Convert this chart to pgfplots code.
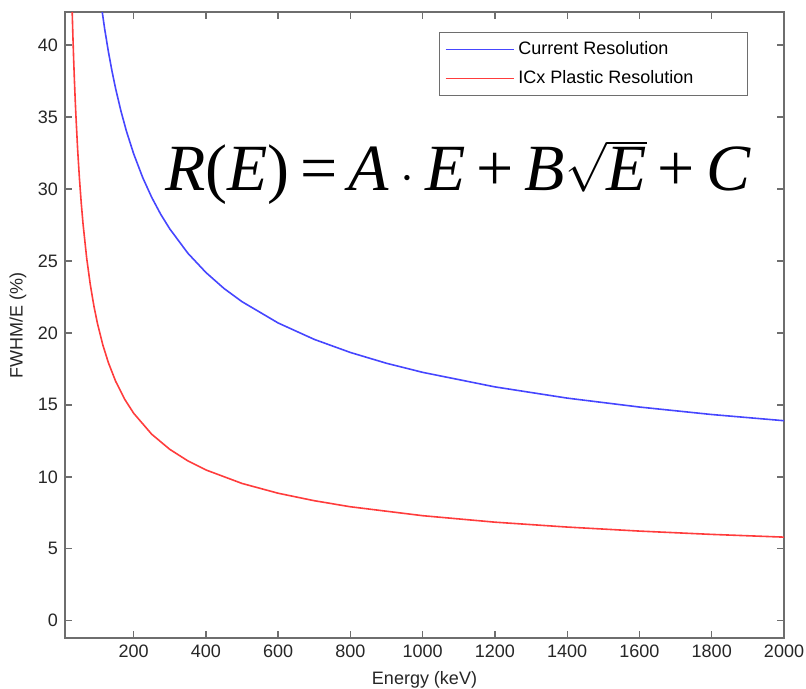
\documentclass[border=0pt]{standalone}
\usepackage{pgfplots}
\pgfplotsset{compat=1.18}
\usepackage{fontspec}
\setmainfont{Liberation Sans}
\newfontfamily\eqfont{Liberation Serif}
\usetikzlibrary{calc}
\definecolor{cblue}{RGB}{70,70,255}
\definecolor{cred}{RGB}{255,60,60}
\definecolor{axgray}{RGB}{110,110,110}
\begin{document}
\begin{tikzpicture}
\begin{axis}[
  name=ax,
  scale only axis,
  width=359.5pt, height=313pt,
  xmin=10, xmax=2000, ymin=-1.2, ymax=42.3,
  xtick={200,400,...,2000}, ytick={0,5,...,40},
  tick align=inside, major tick length=3.3pt,
  axis line style={axgray, line width=0.7pt},
  every tick/.style={axgray, line width=0.7pt},
  /pgf/number format/assume math mode=true,
  /pgf/number format/1000 sep={},
  tick label style={font=\fontsize{9}{10}\selectfont, text=black!85},
  label style={font=\fontsize{9}{10}\selectfont, text=black!85},
  xlabel={Energy (keV)},
  ylabel={FWHM/E (\%)},
  xlabel style={at={(axis description cs:0.5,-0.067)}, anchor=center},
  ylabel style={at={(axis description cs:-0.0654,0.5)}, anchor=center},
  legend style={at={(1,1)}, anchor=north east, xshift=-18pt, yshift=-10pt,
    draw=axgray, line width=0.6pt, font=\fontsize{9}{10}\selectfont,
    row sep=2.5pt, inner sep=2.5pt},
  legend cell align=left,
  legend image code/.code={\draw[#1] (0pt,0pt) -- (34pt,0pt);},
]
\addplot[cblue, line width=0.8pt] coordinates {
(110,42.85) (120,41.09) (130,39.56) (140,38.20) (150,36.99) (165,35.40)
(180,34.02) (200,32.45) (225,30.80) (250,29.42) (275,28.24) (300,27.23)
(350,25.54) (400,24.20) (450,23.09) (500,22.17) (600,20.69) (700,19.55)
(800,18.64) (900,17.89) (1000,17.26) (1200,16.25) (1400,15.47) (1600,14.85)
(1800,14.33) (2000,13.90)
};
\addlegendentry{\makebox[110pt][l]{Current Resolution}}
\addplot[cred, line width=0.8pt] coordinates {
(29,43.16) (30,42.23) (32,40.52) (34,38.98) (36,37.60) (38,36.35) (40,35.21)
(45,32.74) (50,30.72) (55,29.01) (60,27.56) (70,25.20) (80,23.36) (90,21.87)
(100,20.64) (115,19.14) (130,17.94) (150,16.65) (175,15.40) (200,14.42)
(250,12.96) (300,11.91) (350,11.11) (400,10.48) (500,9.54) (600,8.86)
(700,8.34) (800,7.92) (1000,7.30) (1200,6.85) (1400,6.51) (1600,6.23)
(1800,6.00) (2000,5.81)
};
\addlegendentry{\makebox[110pt][l]{ICx Plastic Resolution}}
\node[anchor=base west, inner sep=0pt, font=\eqfont\fontsize{33}{36}\selectfont]
  at (axis cs:286,29.9)
  {\textit{R}(\textit{E})\,=\,\textit{A}\,$\cdot$\,\textit{E}\,+\,\textit{B}$\sqrt{\mbox{\textit{E}}}$\,+\,\textit{C}};
\end{axis}
\pgfresetboundingbox
\path[use as bounding box] ($(ax.south west)+(-32.5pt,-25pt)$) rectangle ($(ax.north east)+(11pt,6pt)$);
\end{tikzpicture}
\end{document}
